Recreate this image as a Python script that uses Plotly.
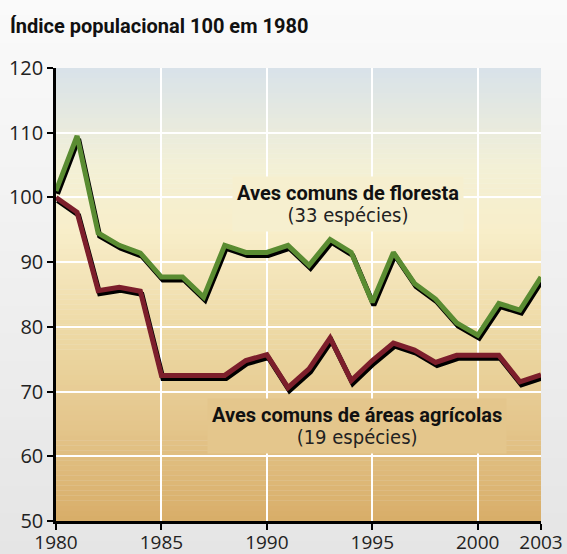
import plotly.graph_objects as go

years = list(range(1980, 2004))
floresta = [101.0, 109.5, 94.5, 92.6, 91.4, 87.7, 87.7, 84.6, 92.6, 91.5, 91.5, 92.6,
            89.5, 93.5, 91.5, 83.8, 91.5, 86.7, 84.3, 80.6, 78.7, 83.6, 82.6, 87.7]
agricolas = [100.0, 97.7, 85.6, 86.1, 85.5, 72.5, 72.5, 72.5, 72.5, 74.8, 75.7, 70.6,
             73.5, 78.3, 71.7, 74.8, 77.5, 76.4, 74.5, 75.6, 75.6, 75.6, 71.5, 72.6]
x_ticks = [1980, 1985, 1990, 1995, 2000, 2003]
y_ticks = [50, 60, 70, 80, 90, 100, 110, 120]
title_text = "Índice populacional 100 em 1980"
label_floresta = ("Aves comuns de floresta", "(33 espécies)")
label_agricolas = ("Aves comuns de áreas agrícolas", "(19 espécies)")

W, H = 567, 554
ML, MR, MT, MB = 56, 26, 68, 33
YMIN, YMAX = 50, 120
XMIN, XMAX = 1980, 2003
plot_w = W - ML - MR
plot_h = H - MT - MB
# shadow offset in pixels -> data units
dx = 1.5 * (XMAX - XMIN) / plot_w
dy = 3.0 * (YMAX - YMIN) / plot_h

GREEN = "#5a8c32"
RED = "#7c1e2b"

def lerp_color(stops, t):
    for i in range(len(stops) - 1):
        t0, c0 = stops[i]
        t1, c1 = stops[i + 1]
        if t0 <= t <= t1:
            f = (t - t0) / (t1 - t0) if t1 > t0 else 0
            c = [round(c0[k] + (c1[k] - c0[k]) * f) for k in range(3)]
            return "rgb(%d,%d,%d)" % tuple(c)
    c = stops[-1][1]
    return "rgb(%d,%d,%d)" % tuple(c)

plot_stops = [(50, (216, 173, 104)), (65, (228, 198, 140)), (80, (238, 218, 166)),
              (95, (248, 238, 202)), (105, (243, 240, 214)), (120, (216, 226, 234))]
paper_stops = [(0.0, (229, 229, 229)), (1.0, (250, 250, 250))]

shapes = []
nb = 40
p0 = -MB / plot_h
p1 = 1 + MT / plot_h
for i in range(nb):
    a = p0 + (p1 - p0) * i / nb
    b = p0 + (p1 - p0) * (i + 1) / nb
    t = (i + 0.5) / nb
    shapes.append(dict(type="rect", xref="paper", yref="paper", x0=-ML / plot_w - 0.01,
                       x1=1 + MR / plot_w + 0.01, y0=a - 0.002, y1=b + 0.002, layer="below",
                       line=dict(width=0), fillcolor=lerp_color(paper_stops, t)))
nbands = 90
for i in range(nbands):
    a = YMIN + (YMAX - YMIN) * i / nbands
    b = YMIN + (YMAX - YMIN) * (i + 1) / nbands
    shapes.append(dict(type="rect", xref="x domain", yref="y", x0=0, x1=1, y0=a,
                       y1=b + 0.05, layer="below", line=dict(width=0),
                       fillcolor=lerp_color(plot_stops, (a + b) / 2)))

fig = go.Figure()
for vals, col in [(floresta, GREEN), (agricolas, RED)]:
    fig.add_trace(go.Scatter(x=[y + dx for y in years], y=[v - dy for v in vals],
                             mode="lines", line=dict(color="black", width=5),
                             hoverinfo="skip", showlegend=False))
    fig.add_trace(go.Scatter(x=years, y=vals, mode="lines",
                             line=dict(color=col, width=5), showlegend=False))

tick_font = dict(family="Open Sans, sans-serif", size=20, color="#222222")
bold_font = "Roboto, sans-serif"
reg_font = "DejaVu Sans Condensed, sans-serif"

annotations = []
def add_label(lines, x, y, bg):
    text = ("<span style='font-family:%s;font-size:20px;font-weight:bold;color:#111111'>%s</span>"
            "<br><span style='font-size:20px'>%s</span>") % (bold_font, lines[0], lines[1])
    annotations.append(dict(x=x, y=y, xref="x", yref="y", showarrow=False,
                            text=text, bgcolor=bg, borderpad=4,
                            font=dict(family=reg_font, size=17, color="#222222")))

add_label(label_floresta, 1993.85, 99.0, lerp_color(plot_stops, 99))
add_label(label_agricolas, 1994.27, 64.75, lerp_color(plot_stops, 65))

axis_common = dict(showgrid=True, gridcolor="white", gridwidth=2, zeroline=False,
                   showline=True, linecolor="black", linewidth=2.5,
                   ticks="outside", ticklen=6, tickwidth=2, tickcolor="black",
                   fixedrange=True, automargin=False)

fig.update_layout(
    width=W, height=H,
    margin=dict(l=ML, r=MR, t=MT, b=MB, autoexpand=False),
    paper_bgcolor="#efefef",
    plot_bgcolor="rgba(0,0,0,0)",
    shapes=shapes,
    annotations=annotations,
    title=dict(text="<b>%s</b>" % title_text, xref="container", yref="container",
               x=10 / W, xanchor="left", y=1 - 26 / H, yanchor="middle",
               font=dict(family=bold_font, size=20, color="#111111")),
    xaxis=dict(range=[XMIN, XMAX], tickvals=x_ticks, ticktext=[str(v) for v in x_ticks],
               tickfont=dict(tick_font, size=19), ticklabelstandoff=-4, **axis_common),
    yaxis=dict(range=[YMIN, YMAX], tickvals=y_ticks, ticktext=[str(v) for v in y_ticks],
               tickfont=tick_font, **axis_common),
)

fig.write_html("out.html", config={"displayModeBar": False},
               post_script="document.body.style.margin='0';")
